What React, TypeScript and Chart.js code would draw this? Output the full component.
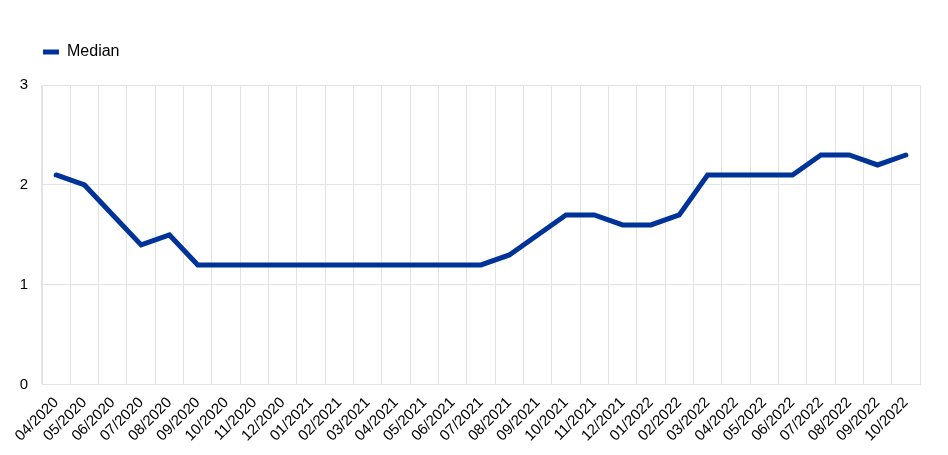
import React, { useEffect, useRef } from "react";
import { Chart, registerables } from "chart.js";

Chart.register(...registerables);

const categories = [
  "04/2020", "05/2020", "06/2020", "07/2020", "08/2020", "09/2020", "10/2020", "11/2020",
  "12/2020", "01/2021", "02/2021", "03/2021", "04/2021", "05/2021", "06/2021", "07/2021",
  "08/2021", "09/2021", "10/2021", "11/2021", "12/2021", "01/2022", "02/2022", "03/2022",
  "04/2022", "05/2022", "06/2022", "07/2022", "08/2022", "09/2022", "10/2022",
];

const medianValues = [
  2.1, 2.0, 1.7, 1.4, 1.5, 1.2, 1.2, 1.2,
  1.2, 1.2, 1.2, 1.2, 1.2, 1.2, 1.2, 1.2,
  1.3, 1.5, 1.7, 1.7, 1.6, 1.6, 1.7, 2.1,
  2.1, 2.1, 2.1, 2.3, 2.3, 2.2, 2.3,
];

const yTicks = [0, 1, 2, 3];

const FONT = "'Liberation Sans', Arial, sans-serif";
const BLUE = "#003399";
const GRID = "#e3e3e3";

const legendTweak = {
  id: "legendTweak",
  beforeInit(chart: any) {
    const lg = chart.legend;
    if (lg) {
      const orig = lg.fit;
      lg.fit = function () {
        orig.call(this);
        this.height += 15;
      };
    }
  },
  afterLayout(chart: any) {
    const lg = chart.legend;
    if (lg) {
      lg.left = 33;
    }
  },
};

export default function App() {
  const ref = useRef<HTMLCanvasElement | null>(null);
  useEffect(() => {
    if (!ref.current) return;
    const chart = new Chart(ref.current, {
      type: "line",
      data: {
        labels: categories,
        datasets: [
          {
            label: "Median",
            data: medianValues,
            borderColor: BLUE,
            backgroundColor: BLUE,
            borderWidth: 5,
            pointRadius: 0,
            tension: 0,
            borderCapStyle: "round",
            fill: false,
          },
        ],
      },
      options: {
        animation: false,
        responsive: false,
        maintainAspectRatio: false,
        layout: { padding: { top: 34, right: 28, left: 0, bottom: 1 } },
        plugins: {
          legend: {
            position: "top",
            align: "start",
            labels: {
              boxWidth: 16,
              boxHeight: 5,
              color: "#000",
              font: { family: FONT, size: 16 },
              padding: 10,
              generateLabels: (c: any) => {
                const items = Chart.defaults.plugins.legend.labels.generateLabels(c);
                return items.map((it: any) => ({ ...it, lineWidth: 0, fillStyle: BLUE, strokeStyle: BLUE }));
              },
            },
          },
          tooltip: { enabled: false },
        },
        scales: {
          x: {
            offset: true,
            grid: { color: GRID, offset: true, drawTicks: false, lineWidth: 1 },
            border: { color: GRID },
            ticks: {
              autoSkip: false,
              minRotation: 45,
              maxRotation: 45,
              color: "#000",
              padding: 9,
              font: { family: FONT, size: 15 },
            },
          },
          y: {
            min: 0,
            max: 3,
            afterBuildTicks: (s: any) => {
              s.ticks = yTicks.map((v) => ({ value: v }));
            },
            afterFit: (s: any) => {
              s.width = 42;
            },
            grid: { color: GRID, drawTicks: false, lineWidth: 1 },
            border: { color: GRID },
            ticks: {
              color: "#000",
              padding: 14,
              font: { family: FONT, size: 15 },
            },
          },
        },
      },
      plugins: [legendTweak],
    });
    return () => chart.destroy();
  }, []);
  return (
    <div style={{ position: "fixed", left: 0, top: 0, width: 948, height: 455, background: "#fff" }}>
      <canvas ref={ref} width={948} height={455} style={{ width: 948, height: 455 }} />
    </div>
  );
}
